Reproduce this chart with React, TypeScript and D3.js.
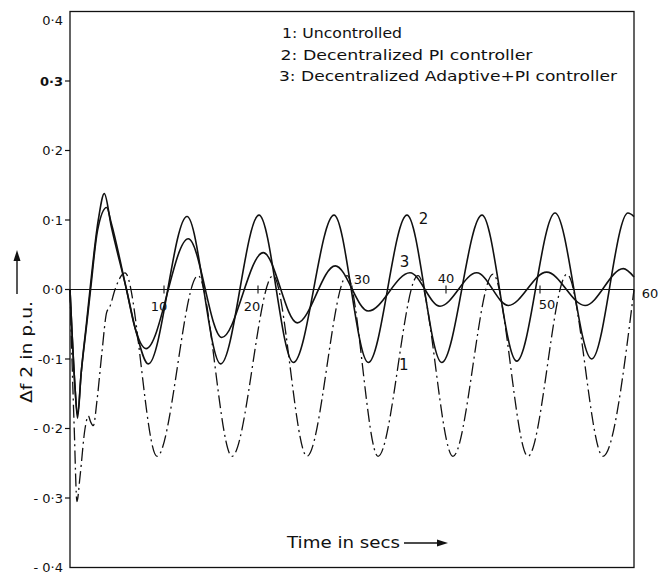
import React from "react";
import * as d3 from "d3";

// curve 1: uncontrolled (dash-dot)
const time1 = [0, 0.21, 0.45, 0.74, 1.06, 1.6, 1.95, 2.18, 2.48, 2.87, 3.4, 3.9, 4.26, 4.79, 5.85,
  9.26, 13.62, 17.23, 21.6, 25.21, 29.47, 32.77, 37.02, 40.74, 45.0, 48.72, 52.87, 56.7, 60];
const df1 = [0, -0.1, -0.2, -0.305, -0.27, -0.2, -0.182, -0.19, -0.196, -0.16, -0.09, -0.033, -0.024, 0, 0.024,
  -0.24, 0.02, -0.24, 0.02, -0.24, 0.02, -0.24, 0.02, -0.24, 0.022, -0.24, 0.022, -0.24, 0];

// curve 2: decentralized PI
const time2 = [0, 0.21, 0.53, 0.8, 1.19, 1.78, 2.13, 3.01, 3.65, 4.4, 6.01, 7.02, 8.33,
  12.45, 16.03, 20.11, 23.76, 28.09, 31.73, 35.85, 39.54, 43.83, 47.52, 51.6, 55.5, 59.36, 60];
const df2 = [0, -0.06, -0.14, -0.185, -0.12, -0.045, 0, 0.1, 0.138, 0.09, 0, -0.06, -0.107,
  0.105, -0.107, 0.107, -0.105, 0.107, -0.105, 0.107, -0.105, 0.107, -0.103, 0.11, -0.1, 0.11, 0.105];

// curve 3: decentralized adaptive + PI
const time3 = [0, 0.21, 0.53, 0.8, 1.19, 1.78, 2.19, 2.93, 3.9, 4.4, 6.01, 6.91, 8.09,
  12.59, 16.14, 20.56, 24.18, 28.22, 31.73, 36.17, 39.36, 43.27, 46.63, 50.71, 54.79, 58.86, 60];
const df3 = [0, -0.06, -0.14, -0.18, -0.12, -0.05, 0, 0.085, 0.118, 0.095, 0, -0.055, -0.085,
  0.073, -0.069, 0.053, -0.048, 0.034, -0.031, 0.024, -0.024, 0.024, -0.023, 0.025, -0.023, 0.03, 0.018];

const yTicks = [0.4, 0.3, 0.2, 0.1, 0, -0.1, -0.2, -0.3, -0.4];
const yTickLabels = ["0·4", "0·3", "0·2", "0·1", "0·0", "-0·1", "- 0·2", "- 0·3", "- 0·4"];
const xTicks = [10, 20, 30, 40, 50, 60];
const xTickLabels = ["10", "20", "30", "40", "50", "60"];

const legendLines = [
  "1: Uncontrolled",
  "2: Decentralized PI controller",
  "3: Decentralized Adaptive+PI controller",
];
const curveLabels = [
  { text: "2", t: 37.6, v: 0.102 },
  { text: "3", t: 35.6, v: 0.04 },
  { text: "1", t: 35.5, v: -0.108 },
];

// placement of the odd x tick labels, as in the scan
const xLabelShift = [
  { dx: -5, dy: 17 }, { dx: -6, dy: 17 }, { dx: 10, dy: -10 },
  { dx: 0, dy: -11 }, { dx: 7, dy: 15 }, { dx: 16, dy: 4 },
];
const legendWidths = [120, 252, 338];

export default function App() {
  const width = 660;
  const height = 576;
  const x = d3.scaleLinear().domain([0, 60]).range([70, 634]);
  const y = d3.scaleLinear().domain([-0.4, 0.4]).range([567.5, 11.5]);

  const line = d3.line<[number, number]>()
    .x(d => x(d[0]))
    .y(d => y(d[1]))
    .curve(d3.curveMonotoneX);

  const s1 = d3.zip(time1, df1) as [number, number][];
  const s2 = d3.zip(time2, df2) as [number, number][];
  const s3 = d3.zip(time3, df3) as [number, number][];

  const font = "'DejaVu Sans', sans-serif";
  const ink = "#111";

  return (
    <svg width={width} height={height} style={{ position: "absolute", left: 0, top: 0, background: "#fff" }}
      fontFamily={font} fill={ink}>
      {/* frame */}
      <rect x={x(0)} y={y(0.4)} width={x(60) - x(0)} height={y(-0.4) - y(0.4)}
        fill="none" stroke={ink} strokeWidth={1.3} />
      {/* zero line */}
      <line x1={x(0)} x2={x(60)} y1={y(0)} y2={y(0)} stroke={ink} strokeWidth={1.2} />

      {/* y ticks */}
      {yTicks.map((v, i) => (
        <g key={"y" + i}>
          {Math.abs(v) < 0.35 && <line x1={x(0) - 5} x2={x(0)} y1={y(v)} y2={y(v)} stroke={ink} strokeWidth={1.2} />}
          <text x={x(0) - 7} y={y(v) + (v === 0.4 ? 9 : 0)} dy="0.35em" textAnchor="end" fontSize={13}
            fontWeight={v === 0.3 ? "bold" : "normal"}>{yTickLabels[i]}</text>
        </g>
      ))}

      {/* x ticks on the zero line */}
      {xTicks.map((t, i) => (
        <g key={"x" + i}>
          {t < 60 && <line x1={x(t)} x2={x(t)} y1={y(0) - 4} y2={y(0) + 4} stroke={ink} strokeWidth={1.1} />}
          <text x={x(t) + xLabelShift[i].dx} y={y(0) + xLabelShift[i].dy} dy="0.35em" textAnchor="middle"
            fontSize={13}>{xTickLabels[i]}</text>
        </g>
      ))}

      {/* curves */}
      <path d={line(s1) || ""} fill="none" stroke={ink} strokeWidth={1.3} strokeDasharray="13,4,2,4" />
      <path d={line(s2) || ""} fill="none" stroke={ink} strokeWidth={1.6} />
      <path d={line(s3) || ""} fill="none" stroke={ink} strokeWidth={1.6} />

      {curveLabels.map(c => (
        <text key={c.text} x={x(c.t)} y={y(c.v)} dy="0.35em" textAnchor="middle" fontSize={15}>{c.text}</text>
      ))}

      {/* legend */}
      {legendLines.map((s, i) => (
        <text key={s} x={282 - i * 1.5} y={38 + i * 21.5} fontSize={14}
          textLength={legendWidths[i]} lengthAdjust="spacingAndGlyphs">{s}</text>
      ))}

      {/* x axis title */}
      <text x={287} y={548} fontSize={15} textLength={113} lengthAdjust="spacingAndGlyphs">Time in secs</text>
      <line x1={404} x2={440} y1={543} y2={543} stroke={ink} strokeWidth={1.4} />
      <path d="M437,539.5 L448,543 L437,546.5 Z" />

      {/* y axis title */}
      <text transform="translate(32,403) rotate(-90)" fontSize={15} textLength={102}
        lengthAdjust="spacingAndGlyphs">Δf 2 in p.u.</text>
      <line x1={17} x2={17} y1={294} y2={258} stroke={ink} strokeWidth={1.4} />
      <path d="M13.5,261 L17,250 L20.5,261 Z" />
    </svg>
  );
}
